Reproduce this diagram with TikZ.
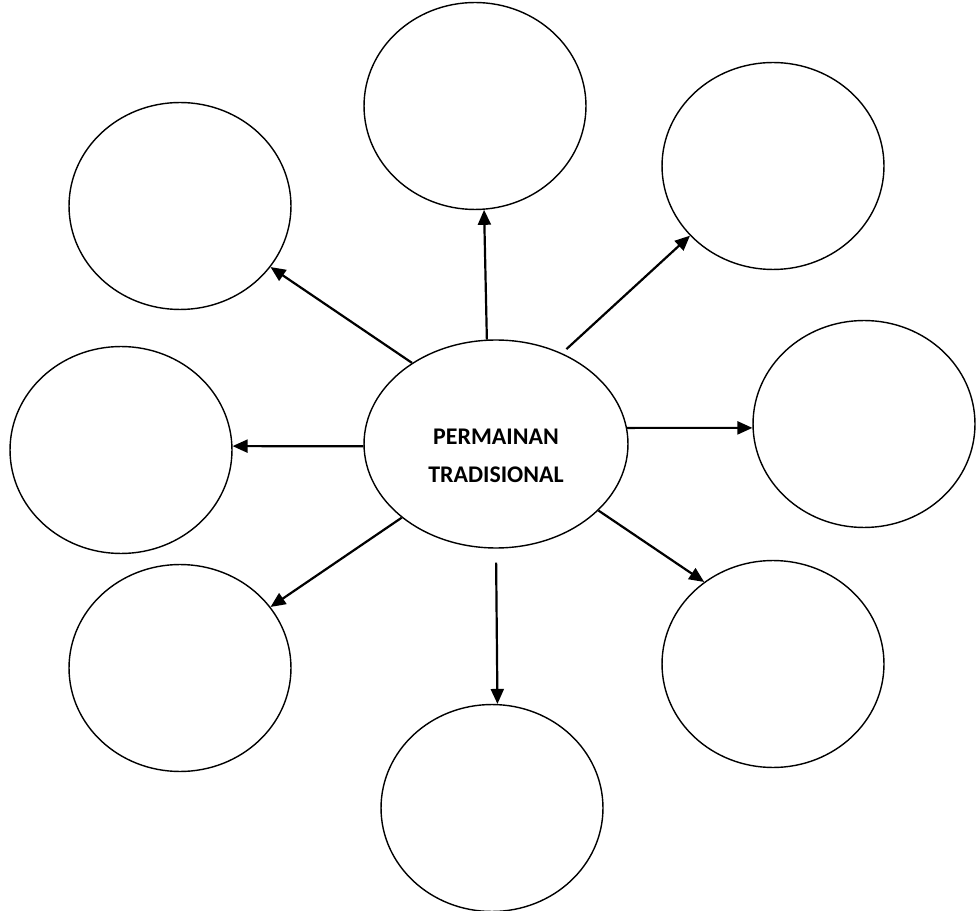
\documentclass[tikz,border=0pt]{standalone}
\usepackage{fontspec}
\setmainfont{Carlito}
\usetikzlibrary{arrows.meta,shapes}

\begin{document}
\begin{tikzpicture}[x=0.02cm,y=-0.02cm,
  bubble/.style={ellipse,draw,line width=0.8pt,inner sep=0pt,minimum width=4.44cm,minimum height=4.14cm},
  hub/.style={ellipse,draw,line width=0.8pt,inner sep=0pt,minimum width=5.28cm,minimum height=4.16cm},
  hubtext/.style={align=center,font=\bfseries\fontsize{13.6}{21.6}\selectfont},
  spoke/.style={line width=1.25pt,-{Triangle[length=0.3cm,width=0.26cm]}}]
  \useasboundingbox (0,0) rectangle (976,911); %page size

  %Centre and the outer bubbles
  \node[hub] (game) at (496,444) {};
  \node[hubtext] (gamelabel) at (496,456) {PERMAINAN\\TRADISIONAL};
  \node[bubble] (top)      at (475,106) {}; %top
  \node[bubble] (topright) at (773,166) {}; %upper right
  \node[bubble] (topleft)  at (180,206) {}; %upper left
  \node[bubble] (left)     at (121,450) {}; %left
  \node[bubble] (right)    at (864,424) {}; %right
  \node[bubble] (botleft)  at (180,668) {}; %lower left
  \node[bubble] (botright) at (773,664) {}; %lower right
  \node[bubble] (bottom)   at (492,808) {}; %bottom

  %Arrows out of the centre
  \draw[spoke] (game.95) -- (top.275) ;
  \draw[spoke,shorten <=0.12cm] (game.54) -- (topright.220) ;
  \draw[spoke] (game.136) -- (topleft.326) ;
  \draw[spoke] (game.181) -- (left.2) ;
  \draw[spoke] (game.7) -- (right.182) ;
  \draw[spoke] (game.218) -- (botleft.34) ;
  \draw[spoke,shorten <=0.28cm] (game.270) -- (bottom.87) ;
  \draw[spoke] (game.327) -- (botright.130) ;
\end{tikzpicture}
\end{document}
